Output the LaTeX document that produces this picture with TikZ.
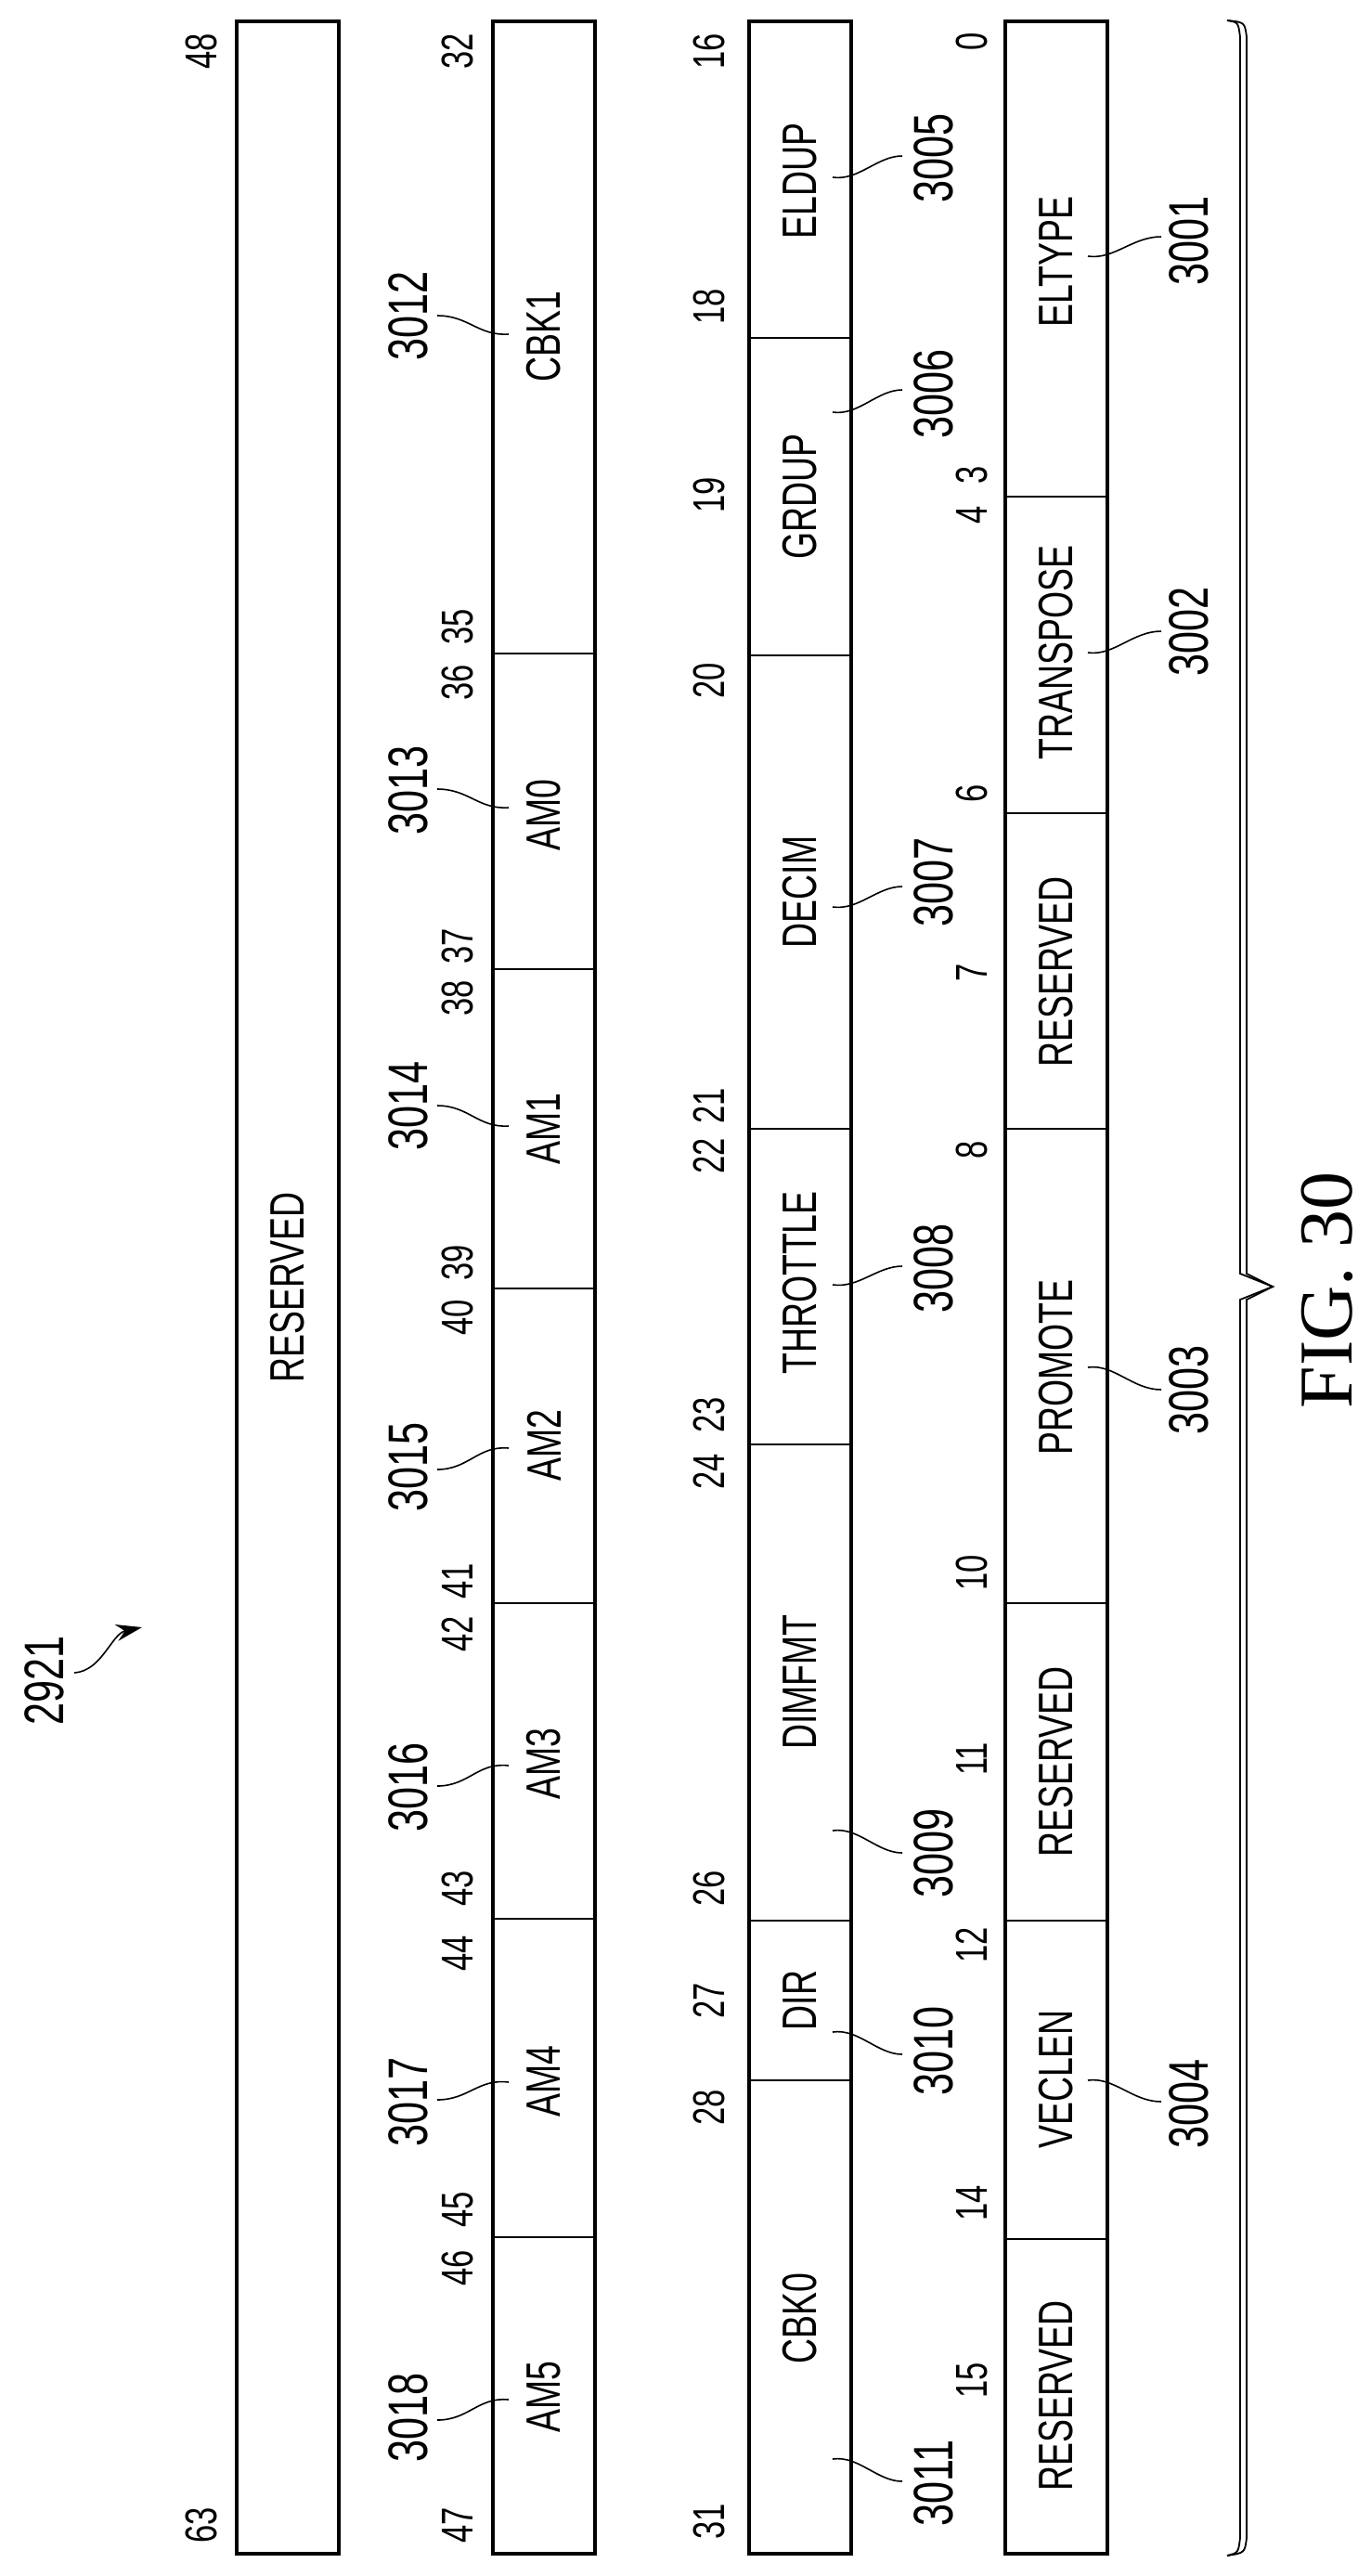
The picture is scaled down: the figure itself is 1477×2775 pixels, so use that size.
\documentclass[tikz,border=0pt]{standalone}
\usepackage{fontspec}
\setmainfont{Liberation Serif}
\newfontfamily\cond[FakeStretch=0.72]{Liberation Sans}
\usetikzlibrary{arrows.meta}
\begin{document}
\begin{tikzpicture}[x=0.5pt,y=-0.5pt,
  box/.style={line width=1.6pt},
  div/.style={line width=1pt},
  lab/.style={rotate=90,inner sep=0pt,font=\cond\fontsize{26}{26}\selectfont},
  refn/.style={rotate=90,inner sep=0pt,font=\cond\fontsize{30}{30}\selectfont},
  bitn/.style={rotate=90,inner sep=0pt,font=\cond\fontsize{24}{24}\selectfont},
  lead/.style={line width=0.8pt}]
\useasboundingbox (0,0) rectangle (1477,2775);
% columns
\draw[box] (255,23) rectangle (365,2751);
\draw[box] (531,23) rectangle (641,2751);
\draw[box] (807,23) rectangle (917,2751);
\draw[box] (1083,23) rectangle (1193,2751);
% dividers
\foreach \y in {704,1044,1388,1727,2067,2410} \draw[div] (531,\y) -- (641,\y);
\foreach \y in {364,706,1216,1556,2069,2241} \draw[div] (807,\y) -- (917,\y);
\foreach \y in {535,876,1216,1727,2069,2412} \draw[div] (1083,\y) -- (1193,\y);
% column 1
\node[lab] (res1) at (310,1387) {RESERVED};
\node[bitn] at (217,55) {48};
\node[bitn] at (217,2720) {63};
% column 2 labels
\node[lab] (cbk1) at (586,363) {CBK1};
\node[lab] (am0) at (586,878) {AM0};
\node[lab] (am1) at (586,1216) {AM1};
\node[lab] (am2) at (586,1557) {AM2};
\node[lab] (am3) at (586,1900) {AM3};
\node[lab] (am4) at (586,2242) {AM4};
\node[lab] (am5) at (586,2582) {AM5};
\foreach \t/\y in {32/55,35/675,36/735,37/1019,38/1075,39/1360,40/1419,41/1703,42/1760,43/2034,44/2104,45/2380,46/2443,47/2720}
  \node[bitn] at (493,\y) {\t};
\foreach \t/\y in {3012/340,3013/851,3014/1191,3015/1580,3016/1925,3017/2264,3018/2604}
  \node[refn] (r\t) at (440,\y) {\t};
\draw[lead] (471,340) .. controls (505,340) and (515,362) .. (548,360);
\draw[lead] (471,850) .. controls (505,850) and (515,872) .. (548,870);
\draw[lead] (471,1191) .. controls (505,1191) and (515,1215) .. (548,1213);
\draw[lead] (471,1583) .. controls (505,1583) and (515,1557) .. (548,1560);
\draw[lead] (471,1924) .. controls (505,1924) and (515,1898) .. (548,1902);
\draw[lead] (471,2262) .. controls (505,2262) and (515,2239) .. (548,2243);
\draw[lead] (471,2607) .. controls (505,2607) and (515,2582) .. (548,2585);
% column 3
\node[lab] (eldup) at (862,195) {ELDUP};
\node[lab] (grdup) at (862,535) {GRDUP};
\node[lab] (decim) at (862,961) {DECIM};
\node[lab] (thr) at (862,1382) {THROTTLE};
\node[lab] (dimf) at (862,1812) {DIMFMT};
\node[lab] (dir) at (862,2155) {DIR};
\node[lab] (cbk0) at (862,2498) {CBK0};
\foreach \t/\y in {16/55,18/330,19/533,20/733,21/1191,22/1245,23/1524,24/1585,26/2034,27/2155,28/2270,31/2716}
  \node[bitn] at (764,\y) {\t};
\foreach \t/\y in {3005/170,3006/424,3007/950,3008/1366,3009/1996,3010/2209,3011/2675}
  \node[refn] (r\t) at (1006,\y) {\t};
\draw[lead] (897,191) .. controls (925,195) and (945,168) .. (972,168);
\draw[lead] (897,444) .. controls (925,448) and (945,420) .. (972,420);
\draw[lead] (897,977) .. controls (925,981) and (945,955) .. (972,955);
\draw[lead] (897,1384) .. controls (925,1388) and (945,1364) .. (972,1364);
\draw[lead] (897,1972) .. controls (925,1968) and (945,1996) .. (972,1996);
\draw[lead] (897,2189) .. controls (925,2185) and (945,2213) .. (972,2213);
\draw[lead] (897,2649) .. controls (925,2645) and (945,2673) .. (972,2673);
% column 4
\node[lab] (eltype) at (1138,282) {ELTYPE};
\node[lab] (transp) at (1138,703) {TRANSPOSE};
\node[lab] (res2) at (1138,1047) {RESERVED};
\node[lab] (prom) at (1138,1473) {PROMOTE};
\node[lab] (res3) at (1138,1898) {RESERVED};
\node[lab] (veclen) at (1138,2240) {VECLEN};
\node[lab] (res4) at (1138,2581) {RESERVED};
\foreach \t/\y in {0/45,3/512,4/555,6/855,7/1048,8/1239,10/1694,11/1895,12/2095,14/2373,15/2564}
  \node[bitn] at (1047,\y) {\t};
\foreach \t/\y in {3001/259,3002/680,3003/1497,3004/2266}
  \node[refn] (r\t) at (1281,\y) {\t};
\draw[lead] (1172,276) .. controls (1200,280) and (1220,255) .. (1251,255);
\draw[lead] (1172,703) .. controls (1200,707) and (1220,680) .. (1251,680);
\draw[lead] (1172,1473) .. controls (1200,1469) and (1220,1497) .. (1251,1497);
\draw[lead] (1172,2241) .. controls (1200,2237) and (1220,2264) .. (1251,2264);
% brace
\foreach \d in {0,7}
  \draw[line width=0.9pt] (1322,22) .. controls (1334+\d,24) .. (1336+\d,40) -- (1336+\d,1372) -- (1371,1386) -- (1336+\d,1400) -- (1336+\d,2734) .. controls (1334+\d,2750) .. (1322,2753);
% 2921
\node[refn] (n2921) at (48,1810) {2921};
\draw[lead,-{Stealth[length=14,width=9]}] (80,1802) .. controls (110,1800) and (120,1760) .. (153,1753);
% FIG
\node[rotate=90,inner sep=0pt,font=\fontsize{41}{41}\selectfont] (fig) at (1430,1390) {FIG. 30};
\end{tikzpicture}
\end{document}
